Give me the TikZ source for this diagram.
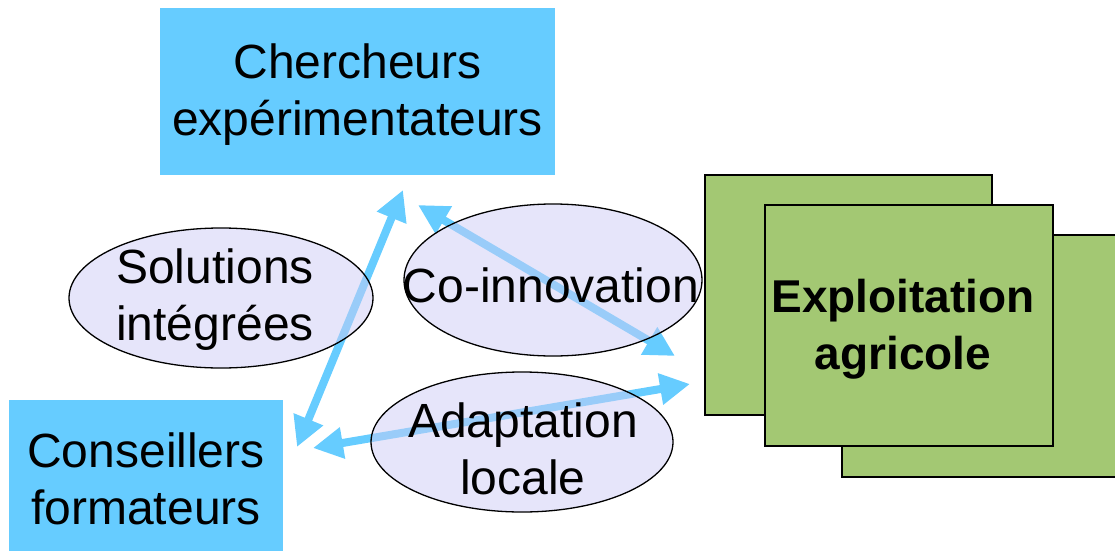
\documentclass[tikz,border=0pt]{standalone}
\usepackage{fontspec}
\setmainfont{Liberation Sans}
\usetikzlibrary{shapes.geometric,arrows.meta}
\definecolor{boxblue}{RGB}{102,204,255}
\definecolor{farmgreen}{RGB}{163,200,115}
\definecolor{ellfill}{RGB}{205,204,245}
\definecolor{arrowblue}{RGB}{102,204,255}
\tikzset{
  bigtext/.style={font=\fontsize{48}{57}\selectfont, align=center},
  bluebox/.style={rectangle, fill=boxblue, draw=none, inner sep=0pt, bigtext},
  farmbox/.style={rectangle, fill=farmgreen, draw=black, line width=1.5pt, inner sep=0pt},
  topic/.style={ellipse, draw=black, line width=1.3pt, fill=ellfill, fill opacity=0.5, draw opacity=1, inner sep=0pt},
  topiclabel/.style={bigtext, inner sep=0pt},
  flow/.style={draw=arrowblue, line width=8pt, {Triangle[width=30pt,length=30pt]}-{Triangle[width=30pt,length=30pt]}}
}
\begin{document}
\begin{tikzpicture}[x=1pt,y=-1pt]
\useasboundingbox (0,0) rectangle (1115,551);
% farm stack
\node[farmbox, minimum width=287pt, minimum height=240pt] (farmA) at (848.5,295) {};
\node[farmbox, minimum width=287pt, minimum height=242pt] (farmC) at (985.5,356) {};
\node[farmbox, minimum width=288pt, minimum height=241pt] (farm) at (909,325.5) {};
\node[font=\fontsize{46}{57}\selectfont\bfseries, align=center, inner sep=0pt] (farmtxt) at (903,329) {Exploitation\\agricole};
% actor boxes
\node[bluebox, minimum width=395pt, minimum height=167pt] (cher) at (357.5,91.5) {};
\node[bigtext, inner sep=0pt] (chertxt) at (357.5,95) {Chercheurs\\expérimentateurs};
\node[bluebox, minimum width=274pt, minimum height=151pt] (cons) at (146,475.5) {};
\node[bigtext, inner sep=0pt] (constxt) at (146,479) {Conseillers\\formateurs};
% arrow end points
\coordinate (c1) at (403,190);
\coordinate (c2) at (297,447);
\coordinate (c3) at (418,205);
\coordinate (c4) at (675,356);
\coordinate (c5) at (313,448);
\coordinate (c6) at (690,384);
\draw[flow] (c2) -- (c1);
\draw[flow] (c3) -- (c4);
\draw[flow] (c5) -- (c6);
% ellipses
\node[topic, minimum width=304pt, minimum height=140pt] (sol) at (221,298) {};
\node[topiclabel] (soltxt) at (215,300) {Solutions\\intégrées};
\node[topic, minimum width=298pt, minimum height=152pt] (coin) at (553,280) {};
\node[topiclabel] (cointxt) at (551,285) {Co-innovation};
\node[topic, minimum width=302pt, minimum height=140pt] (adapt) at (522,442) {};
\node[topiclabel] (adapttxt) at (523,449) {Adaptation\\locale};
\end{tikzpicture}
\end{document}
